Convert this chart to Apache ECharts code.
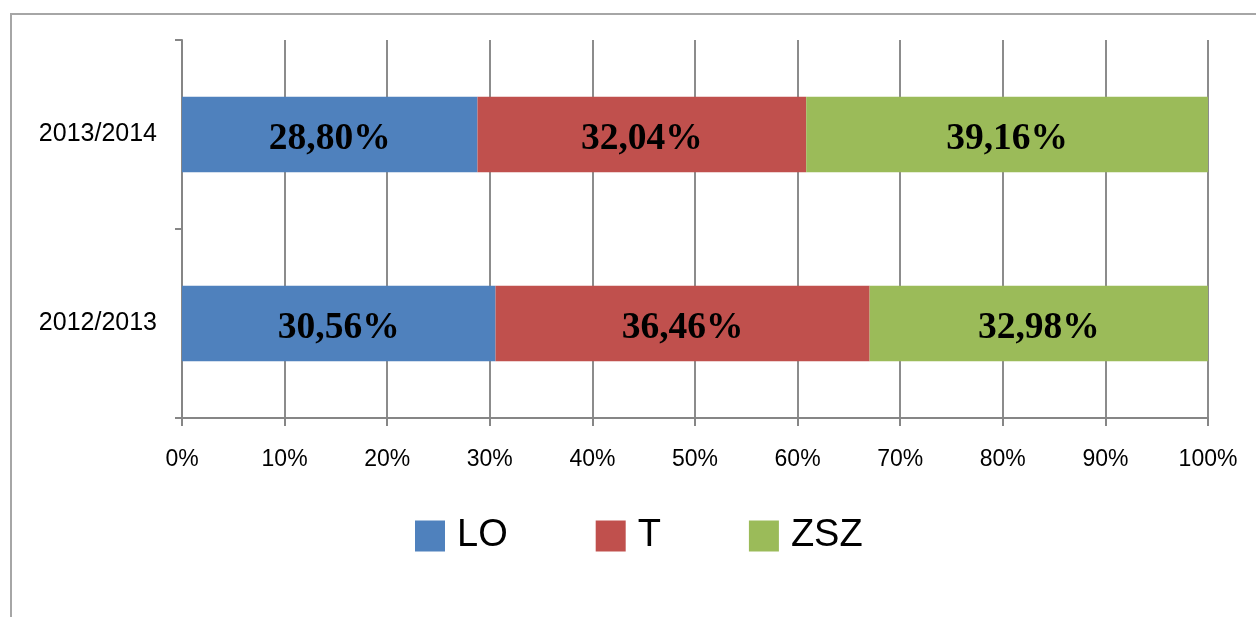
<!DOCTYPE html>
<html>
<head>
<meta charset="utf-8">
<script src="https://cdn.jsdelivr.net/npm/echarts@6/dist/echarts.min.js"></script>
<style>
  html, body { margin: 0; padding: 0; background: #fff; }
  #chart { width: 1256px; height: 617px; }
</style>
</head>
<body>
<div id="chart"></div>
<script>
const years = ['2012/2013', '2013/2014']
const seriesNames = ['LO', 'T', 'ZSZ']
const loValues = [30.56, 28.80]
const tValues = [36.46, 32.04]
const zszValues = [32.98, 39.16]
const colors = ['#4F81BD', '#C0504D', '#9BBB59']

const chart = echarts.init(document.getElementById('chart'))

const makeSeries = (name, data, color) => ({
  name,
  type: 'bar',
  stack: 'total',
  data,
  barWidth: '40%',
  itemStyle: { color },
  label: {
    show: true,
    position: 'inside',
    offset: [0, 5],
    formatter: p => p.value.toFixed(2).replace('.', ',') + '%',
    fontFamily: 'Liberation Serif',
    fontWeight: 'bold',
    fontSize: 37.5,
    color: '#000'
  }
})

chart.setOption({
  backgroundColor: '#fff',
  animation: false,
  graphic: [
    {
      type: 'rect',
      shape: { x: 11, y: 14, width: 1400, height: 800 },
      style: { fill: 'none', stroke: '#a6a6a6', lineWidth: 2 },
      silent: true
    }
  ],
  legend: {
    data: seriesNames,
    left: 410,
    top: 512,
    itemWidth: 30,
    itemHeight: 31,
    itemGap: 88,
    icon: 'rect',
    textStyle: {
      fontFamily: 'Liberation Sans',
      fontSize: 38,
      color: '#000',
      padding: [0, 0, 0, 7]
    }
  },
  grid: {
    left: 182,
    right: 48,
    top: 40,
    bottom: 199
  },
  xAxis: {
    type: 'value',
    min: 0,
    max: 100,
    interval: 10,
    axisLine: { show: true, lineStyle: { color: '#868686', width: 2 } },
    axisTick: { show: true, length: 8, lineStyle: { color: '#868686', width: 2 } },
    splitLine: { show: true, lineStyle: { color: '#8c8c8c', width: 2 } },
    axisLabel: {
      formatter: '{value}%',
      margin: 30,
      fontFamily: 'Liberation Sans',
      fontSize: 23,
      color: '#000'
    }
  },
  yAxis: {
    type: 'category',
    data: years,
    axisLine: { show: true, lineStyle: { color: '#868686', width: 2 } },
    axisTick: { show: true, length: 7, lineStyle: { color: '#868686', width: 2 } },
    axisLabel: {
      margin: 25,
      fontFamily: 'Liberation Sans',
      fontSize: 25,
      color: '#000'
    }
  },
  series: [
    makeSeries('LO', loValues, colors[0]),
    makeSeries('T', tValues, colors[1]),
    makeSeries('ZSZ', zszValues, colors[2])
  ]
})
</script>
</body>
</html>
